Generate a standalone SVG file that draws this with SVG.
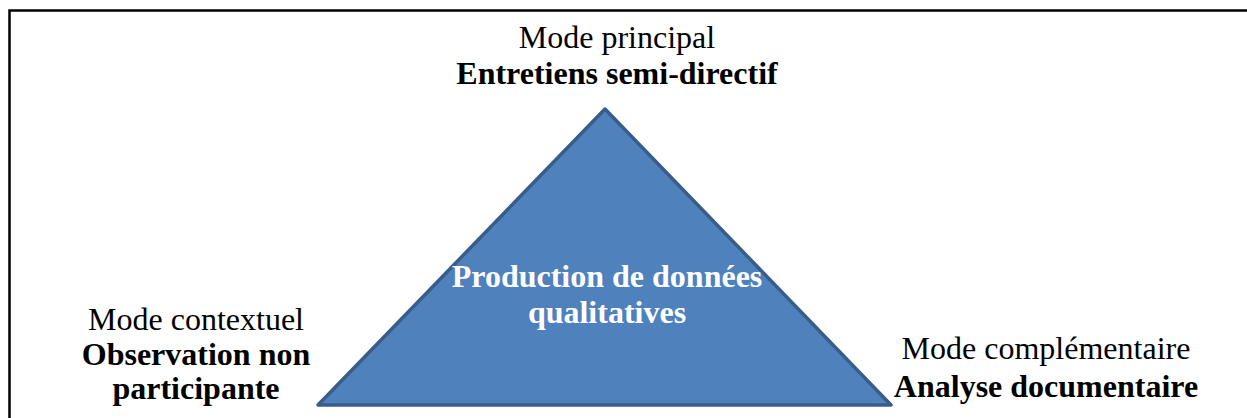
<svg xmlns="http://www.w3.org/2000/svg" width="1247" height="418" viewBox="0 0 1247 418">
<style>
.lbl{font-family:"Liberation Serif","Times New Roman",serif;font-size:32px;fill:#000;text-anchor:middle}
.b{font-weight:bold}
.ctr{font-family:"Liberation Serif","Times New Roman",serif;font-size:32px;font-weight:bold;fill:#fff;text-anchor:middle}
</style>
<rect x="0" y="0" width="1247" height="418" fill="#fff"/>
<path d="M9.5 430 V10.5 H1260" fill="none" stroke="#000" stroke-width="2.5"/>
<g id="connectors"></g>
<g id="triangle">
<polygon points="605,109 891,405 318,405" fill="#4f81bd" stroke="#385d8a" stroke-width="3.5" stroke-linejoin="round"/>
<text class="ctr" x="607" y="287">Production de données</text>
<text class="ctr" x="607" y="323">qualitatives</text>
</g>
<g id="top">
<text class="lbl" x="617" y="48">Mode principal</text>
<text class="lbl b" x="617" y="84">Entretiens semi-directif</text>
</g>
<g id="left">
<text class="lbl" x="196" y="330">Mode contextuel</text>
<text class="lbl b" x="196" y="365">Observation non</text>
<text class="lbl b" x="196" y="399">participante</text>
</g>
<g id="right">
<text class="lbl" x="1046" y="359">Mode complémentaire</text>
<text class="lbl b" x="1046" y="397">Analyse documentaire</text>
</g>
</svg>
